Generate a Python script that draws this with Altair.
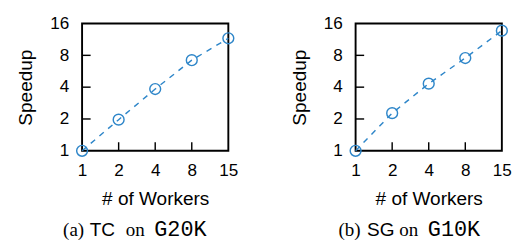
import altair as alt
import pandas as pd

workers = ["1", "2", "4", "8", "15"]
tc_speedup = [1.0, 1.97, 3.84, 7.2, 11.6]
sg_speedup = [1.0, 2.27, 4.32, 7.55, 13.7]
y_ticks = [1, 2, 4, 8, 16]
inner_y_ticks = [2, 4, 8]
inner_x_ticks = ["2", "4", "8"]
captions = [["(a)", "TC", "on", "G20K"], ["(b)", "SG", "on", "G10K"]]

BLUE = "#2e86c9"
W, H = 154, 134
SANS = "Liberation Sans"


def panel(speedups, cap, cap_x):
    df = pd.DataFrame({"workers": workers, "speedup": speedups})
    xs = alt.Scale(domain=workers, type="point", padding=0)
    ys = alt.Scale(type="log", base=2, domain=[1, 16], nice=False)
    x = alt.X(
        "workers:O", scale=xs, sort=workers,
        axis=alt.Axis(title="# of Workers", labelAngle=0, ticks=False, domain=False, grid=False,
                      labelFontSize=18, labelFont=SANS, labelPadding=12, labelColor="black",
                      titleFontSize=20, titleFont=SANS, titleFontWeight="normal", titlePadding=11,
                      titleColor="black"),
    )
    y = alt.Y(
        "speedup:Q", scale=ys,
        axis=alt.Axis(title="Speedup", values=y_ticks, format="d", ticks=False, domain=False, grid=False,
                      labelFontSize=18, labelFont=SANS, labelPadding=14, labelColor="black",
                      titleFontSize=20, titleFont=SANS, titleFontWeight="normal", titlePadding=15,
                      titleColor="black"),
    )
    base = alt.Chart(df)
    line = base.mark_line(color=BLUE, strokeDash=[6, 6], strokeWidth=1.5).encode(x=x, y=y)
    pts = base.mark_point(shape="circle", filled=False, size=130, strokeWidth=1.5, color=BLUE,
                          opacity=1).encode(x=x, y=y)
    tick_df = pd.DataFrame({"workers": inner_x_ticks, "speedup": inner_y_ticks})
    ytick = alt.Chart(tick_df).mark_rule(color="black", strokeWidth=1.5).encode(
        y=alt.Y("speedup:Q", scale=ys), x=alt.value(0), x2=alt.value(9)
    )
    xtick = alt.Chart(tick_df).mark_rule(color="black", strokeWidth=1.5).encode(
        x=alt.X("workers:O", scale=xs, sort=workers), y=alt.value(H), y2=alt.value(H - 9)
    )
    fonts = [("Liberation Serif", 20), (SANS, 20), ("Liberation Serif", 20), ("Liberation Mono", 23)]
    texts = []
    for part, (fnt, fs), px in zip(cap, fonts, cap_x):
        texts.append(
            alt.Chart(pd.DataFrame({"t": [part]})).mark_text(
                font=fnt, fontSize=fs, align="left", baseline="alphabetic", color="black"
            ).encode(text="t:N", x=alt.value(px), y=alt.value(224))
        )
    return alt.layer(line, pts, ytick, xtick, *texts).properties(width=W, height=H)


left = panel(tc_speedup, captions[0], [-20, 8, 46, 76])
right = panel(sg_speedup, captions[1], [-18, 12, 46, 76])

chart = alt.hconcat(left, right, spacing=51).properties(
    padding={"left": 7, "top": 0, "right": 5, "bottom": 0},
    background="white",
).configure_view(stroke="black", strokeWidth=2)

chart.save("out.html", embed_options={"renderer": "svg", "actions": False})
